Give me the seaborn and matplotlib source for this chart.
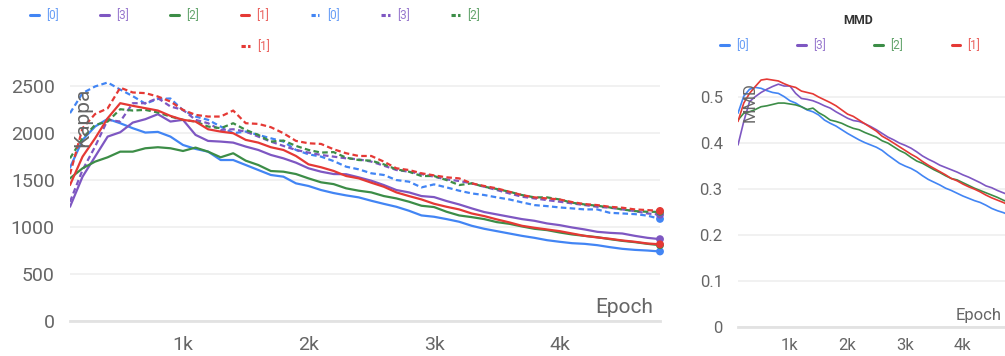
import matplotlib
matplotlib.use("Agg")
import matplotlib.pyplot as plt
from matplotlib.lines import Line2D
from matplotlib.colors import to_rgb
from matplotlib.ticker import FixedLocator, FuncFormatter
import numpy as np
import pandas as pd
import seaborn as sns

# ---------------------------------------------------------------- data
epochs = list(range(100, 4900, 100))
runs = ["[0]", "[3]", "[2]", "[1]"]
run_colors = ["#4285F4", "#7E57C2", "#3C8D47", "#E53935"]

# Kappa, solid curves
kappa_solid_0 = [1630, 1925, 2067, 2148, 2102, 2049, 2003, 2010, 1960, 1871, 1829, 1800,
                 1711, 1711, 1658, 1605, 1552, 1534, 1463, 1435, 1392, 1360, 1335, 1314,
                 1278, 1245, 1214, 1172, 1122, 1108, 1083, 1055, 1012, 980, 955, 930,
                 905, 884, 859, 842, 827, 820, 806, 785, 767, 756, 749, 739]
kappa_solid_3 = [1214, 1534, 1747, 1960, 2006, 2109, 2145, 2198, 2120, 2138, 1978, 1914,
                 1907, 1896, 1854, 1818, 1765, 1729, 1683, 1623, 1587, 1562, 1560, 1527,
                 1491, 1445, 1392, 1367, 1328, 1317, 1275, 1239, 1197, 1158, 1133, 1108,
                 1083, 1065, 1037, 1019, 994, 973, 948, 937, 930, 905, 884, 870]
kappa_solid_2 = [1516, 1623, 1694, 1740, 1800, 1800, 1836, 1847, 1836, 1807, 1843, 1800,
                 1740, 1783, 1704, 1658, 1594, 1587, 1562, 1516, 1474, 1455, 1410, 1385,
                 1367, 1328, 1303, 1268, 1225, 1211, 1161, 1122, 1104, 1083, 1051, 1033,
                 1005, 980, 966, 941, 920, 905, 891, 870, 852, 838, 820, 806]
kappa_solid_1 = [1445, 1747, 1942, 2155, 2315, 2287, 2262, 2237, 2180, 2138, 2120, 2038,
                 2013, 1996, 1925, 1896, 1847, 1818, 1754, 1665, 1634, 1595, 1541, 1516,
                 1470, 1427, 1367, 1328, 1292, 1246, 1214, 1186, 1143, 1115, 1080, 1048,
                 1012, 991, 973, 955, 930, 905, 888, 874, 856, 842, 824, 815]

# Kappa, dashed curves
kappa_dashed_0 = [2209, 2422, 2493, 2535, 2460, 2390, 2310, 2360, 2365, 2240, 2173, 2138,
                  2067, 1996, 2013, 1978, 1942, 1907, 1818, 1772, 1747, 1700, 1640, 1612,
                  1570, 1552, 1498, 1481, 1420, 1452, 1420, 1385, 1356, 1339, 1314, 1292,
                  1261, 1232, 1221, 1207, 1197, 1186, 1186, 1150, 1143, 1136, 1120, 1085]
kappa_dashed_3 = [1268, 1605, 1854, 2138, 2120, 2315, 2315, 2369, 2280, 2244, 2138, 2102,
                  2031, 2038, 2013, 1960, 1907, 1861, 1818, 1790, 1765, 1747, 1729, 1718,
                  1694, 1651, 1605, 1587, 1562, 1534, 1505, 1488, 1463, 1427, 1392, 1356,
                  1321, 1303, 1285, 1268, 1250, 1232, 1214, 1204, 1186, 1168, 1143, 1130]
kappa_dashed_2 = [1729, 1942, 2084, 2120, 2251, 2237, 2244, 2216, 2173, 2138, 2120, 2067,
                  2049, 2102, 2031, 1978, 1907, 1918, 1861, 1818, 1790, 1795, 1736, 1711,
                  1704, 1665, 1612, 1587, 1541, 1541, 1498, 1445, 1463, 1427, 1403, 1374,
                  1339, 1314, 1314, 1292, 1257, 1239, 1225, 1207, 1186, 1168, 1161, 1160]
kappa_dashed_1 = [1560, 2050, 2200, 2260, 2480, 2429, 2422, 2386, 2333, 2244, 2191, 2173,
                  2173, 2237, 2102, 2095, 2060, 1996, 1914, 1889, 1882, 1825, 1783, 1754,
                  1754, 1694, 1623, 1605, 1570, 1548, 1527, 1516, 1463, 1435, 1410, 1374,
                  1339, 1314, 1303, 1292, 1264, 1243, 1232, 1214, 1204, 1186, 1179, 1170]

# MMD
mmd_0 = [0.464, 0.501, 0.516, 0.520, 0.518, 0.513, 0.509, 0.507, 0.500, 0.491,
         0.486, 0.478, 0.471, 0.467, 0.460, 0.449, 0.442, 0.436, 0.428, 0.420,
         0.413, 0.406, 0.400, 0.395, 0.390, 0.383, 0.373, 0.364, 0.355, 0.349,
         0.344, 0.337, 0.328, 0.320, 0.314, 0.308, 0.301, 0.296, 0.290, 0.284,
         0.279, 0.274, 0.270, 0.264, 0.257, 0.252, 0.248, 0.243]
mmd_3 = [0.395, 0.446, 0.489, 0.500, 0.509, 0.516, 0.522, 0.527, 0.523, 0.523,
         0.507, 0.496, 0.494, 0.491, 0.486, 0.480, 0.475, 0.467, 0.460, 0.453,
         0.448, 0.446, 0.441, 0.435, 0.428, 0.420, 0.412, 0.406, 0.399, 0.394,
         0.388, 0.380, 0.371, 0.364, 0.358, 0.351, 0.346, 0.341, 0.336, 0.330,
         0.325, 0.319, 0.313, 0.306, 0.302, 0.296, 0.291, 0.286]
mmd_2 = [0.449, 0.464, 0.467, 0.472, 0.478, 0.480, 0.483, 0.486, 0.486, 0.484,
         0.482, 0.478, 0.472, 0.475, 0.465, 0.458, 0.449, 0.446, 0.442, 0.436,
         0.431, 0.428, 0.422, 0.417, 0.412, 0.404, 0.399, 0.391, 0.383, 0.377,
         0.368, 0.360, 0.355, 0.348, 0.341, 0.335, 0.328, 0.322, 0.319, 0.313,
         0.307, 0.301, 0.296, 0.291, 0.286, 0.281, 0.275, 0.270]
mmd_1 = [0.446, 0.486, 0.507, 0.522, 0.536, 0.538, 0.536, 0.534, 0.528, 0.523,
         0.520, 0.512, 0.509, 0.506, 0.499, 0.493, 0.487, 0.480, 0.471, 0.462,
         0.457, 0.449, 0.441, 0.433, 0.425, 0.414, 0.407, 0.399, 0.391, 0.383,
         0.375, 0.368, 0.359, 0.351, 0.344, 0.337, 0.330, 0.322, 0.317, 0.310,
         0.304, 0.299, 0.293, 0.286, 0.280, 0.275, 0.270, 0.264]

kappa_ticks = [0, 500, 1000, 1500, 2000, 2500]
mmd_ticks = [0, 0.1, 0.2, 0.3, 0.4, 0.5]
epoch_ticks = [1000, 2000, 3000, 4000]
epoch_tick_labels = ["1k", "2k", "3k", "4k"]

# ---------------------------------------------------------------- frames
kappa_solid = [kappa_solid_0, kappa_solid_3, kappa_solid_2, kappa_solid_1]
kappa_dashed = [kappa_dashed_0, kappa_dashed_3, kappa_dashed_2, kappa_dashed_1]
mmd_series = [mmd_0, mmd_3, mmd_2, mmd_1]

rows = []
for run, sv, dv in zip(runs, kappa_solid, kappa_dashed):
    for e, v in zip(epochs, sv):
        rows.append((e, v, run, "solid"))
    for e, v in zip(epochs, dv):
        rows.append((e, v, run, "dashed"))
kappa_df = pd.DataFrame(rows, columns=["epoch", "value", "run", "kind"])

mmd_df = pd.DataFrame(
    [(e, v, run) for run, vals in zip(runs, mmd_series) for e, v in zip(epochs, vals)],
    columns=["epoch", "value", "run"],
)

palette = dict(zip(runs, run_colors))

# ---------------------------------------------------------------- style
sns.set_theme(style="white")
plt.rcParams["font.family"] = ["Roboto", "DejaVu Sans"]
TICK_GREY = "#666666"
AXIS_GREY = "#e2e2e2"
GRID_GREY = "#efefef"

W, H = 1005, 356
fig = plt.figure(figsize=(W / 100, H / 100), dpi=100)


def fig_box(x0, x1, y_top, y_bottom):
    return [x0 / W, 1 - y_bottom / H, (x1 - x0) / W, (y_bottom - y_top) / H]


ax1 = fig.add_axes(fig_box(70, 660, 74.5, 321))
ax2 = fig.add_axes(fig_box(738, 1009, 69, 326.7))

# Kappa panel
sns.lineplot(data=kappa_df, x="epoch", y="value", hue="run", style="kind",
             hue_order=runs, style_order=["solid", "dashed"], palette=palette,
             dashes={"solid": "", "dashed": (2.5, 1.5)}, linewidth=1.6,
             estimator=None, legend=False, ax=ax1)
last_k = kappa_df[kappa_df["epoch"] == epochs[-1]]
sns.scatterplot(data=last_k, x="epoch", y="value", hue="run", hue_order=runs,
                palette=palette, s=32, linewidth=0, legend=False, clip_on=False,
                zorder=5, ax=ax1)
ax1.set_xlim(epochs[0], epochs[-1])
ax1.set_ylim(0, 2620)
ax1.yaxis.set_major_locator(FixedLocator(kappa_ticks))

# MMD panel
sns.lineplot(data=mmd_df, x="epoch", y="value", hue="run", hue_order=runs,
             palette=palette, linewidth=1.2, estimator=None, legend=False, ax=ax2)
ax2.set_xlim(epochs[0], epochs[-1])
ax2.set_ylim(0, 0.56)
ax2.yaxis.set_major_locator(FixedLocator(mmd_ticks))
ax2.yaxis.set_major_formatter(FuncFormatter(lambda v, p: f"{v:g}"))

for ax, big in ((ax1, True), (ax2, False)):
    fs = 14 if big else 12
    for side in ("top", "right", "left"):
        ax.spines[side].set_visible(False)
    ax.spines["bottom"].set_color(AXIS_GREY)
    ax.spines["bottom"].set_linewidth(2.0)
    ax.grid(axis="y", color=GRID_GREY, linewidth=1.2)
    ax.grid(axis="x", visible=False)
    ax.set_axisbelow(True)
    ax.xaxis.set_major_locator(FixedLocator(epoch_ticks))
    ax.set_xticklabels(epoch_tick_labels)
    ax.set_xlabel("")
    ax.set_ylabel("")
    ax.tick_params(axis="y", length=0, pad=11, labelsize=fs, labelcolor=TICK_GREY)
    if big:
        ax.tick_params(axis="x", direction="inout", length=9.5, width=1.1,
                       color=AXIS_GREY, pad=6, labelsize=fs, labelcolor=TICK_GREY)
    else:
        ax.tick_params(axis="x", length=0, pad=8, labelsize=fs, labelcolor=TICK_GREY)

# axis titles drawn inside the panels
ax1.text(0.005, 0.945, "Kappa", rotation=90, ha="left", va="top",
         transform=ax1.transAxes, fontsize=15, color=TICK_GREY)
ax1.text(1 - 7 / 590, 0.016, "Epoch", ha="right", va="bottom",
         transform=ax1.transAxes, fontsize=15, color=TICK_GREY)
ax2.text(0.018, 0.95, "MMD", rotation=90, ha="left", va="top",
         transform=ax2.transAxes, fontsize=12, color=TICK_GREY)
ax2.text(1 - 7 / 271, 0.013, "Epoch", ha="right", va="bottom",
         transform=ax2.transAxes, fontsize=12, color=TICK_GREY)


# ---------------------------------------------------------------- legends
def soften(c, amt=0.2):
    r, g, b = to_rgb(c)
    return (r + (1 - r) * amt, g + (1 - g) * amt, b + (1 - b) * amt)


LEG_FS = 8.5
LEG_PX = LEG_FS * 100 / 72
leg_kw = dict(frameon=False, fontsize=LEG_FS, handlelength=8.5 / LEG_PX,
              handletextpad=7.4 / LEG_PX, borderpad=0, borderaxespad=0,
              loc="center left")


def handle(color, dashed):
    if dashed:
        return Line2D([], [], color=color, lw=2.2, linestyle=(0, (1.4, 0.75)),
                      dash_capstyle="butt")
    return Line2D([], [], color=color, lw=2.2)


def place(handles, labels, colors, x, y, spacing_px, ncol):
    leg = fig.legend(handles, labels, ncol=ncol, columnspacing=spacing_px / LEG_PX,
                     bbox_to_anchor=(x / W, 1 - y / H), **leg_kw)
    for t, c in zip(leg.get_texts(), colors):
        t.set_color(soften(c))
    return leg


k_handles = [handle(c, False) for c in run_colors] + [handle(c, True) for c in run_colors]
k_labels = runs + runs
k_colors = run_colors + run_colors
place(k_handles[:7], k_labels[:7], k_colors[:7], 30, 16, 41.5, 7)
place(k_handles[7:], k_labels[7:], k_colors[7:], 241, 47, 41.5, 1)

place([handle(c, False) for c in run_colors], runs, run_colors, 720, 46, 48.5, 4)
fig.text(858 / W, 1 - 20 / H, "MMD", ha="center", va="center", fontsize=9,
         fontweight="bold", color="#333333")

fig.savefig("out.png", dpi=100)
